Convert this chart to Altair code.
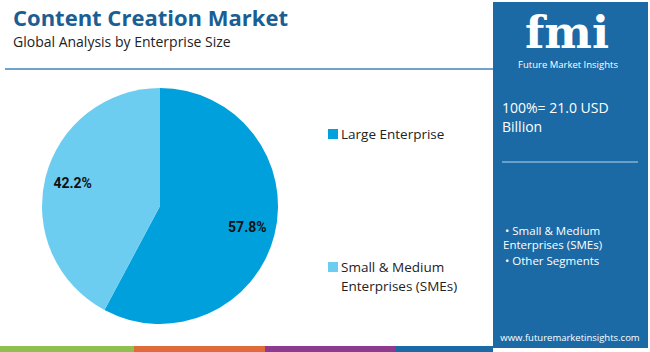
import altair as alt
import pandas as pd

segments = ["Large Enterprise", "Small & Medium Enterprises (SMEs)"]
shares = [57.8, 42.2]
labels = ["57.8%", "42.2%"]
colors = ["#00a0dc", "#6dcdf0"]

df = pd.DataFrame({"segment": segments, "share": shares, "label": labels, "order": [0, 1]})

W, H = 650, 352
CX, CY, R = 160, 206, 118

base = alt.Chart(df)

pie = base.mark_arc(radius=R, stroke=None).encode(
    theta=alt.Theta("share:Q", stack=True),
    color=alt.Color("segment:N", scale=alt.Scale(domain=segments, range=colors), legend=None),
    order=alt.Order("order:Q"),
    x=alt.value(CX), y=alt.value(CY),
)

pie_text = base.mark_text(radius=90, font="Roboto", fontWeight="bold", fontSize=14, color="#111").encode(
    theta=alt.Theta("share:Q", stack=True),
    order=alt.Order("order:Q"),
    text="label:N",
    x=alt.value(CX), y=alt.value(CY),
)

dummy = pd.DataFrame({"a": [0]})
d = alt.Chart(dummy)

def rect(x, x2, y, y2, color):
    return d.mark_rect(color=color).encode(x=alt.value(x), x2=alt.value(x2), y=alt.value(y), y2=alt.value(y2))

def txt(x, y, s, size, color="#222", weight="normal", font="Open Sans", align="left"):
    kw = dict(fontSize=size, color=color, fontWeight=weight, font=font, align=align, baseline="alphabetic")
    return d.mark_text(**kw).encode(x=alt.value(x), y=alt.value(y), text=alt.value(s))

layers = [
    # right panel
    rect(493, 648, 2, 348, "#1b6aa5"),
    # bottom stripes
    rect(0, 134, 346, 352, "#8fc04f"),
    rect(134, 265, 346, 352, "#df6a3a"),
    rect(265, 395, 346, 352, "#8c3b8f"),
    rect(395, 493, 346, 352, "#1b6aa5"),
    # header line
    d.mark_rule(color="#3f84b8", strokeWidth=1.5).encode(x=alt.value(5), x2=alt.value(493), y=alt.value(69)),
    txt(13, 26, "Content Creation Market", 22, color="#1a5e93", weight="bold", font="Open Sans"),
    txt(13, 47, "Global Analysis by Enterprise Size", 14, color="#222", font="Open Sans"),
    # logo
    txt(567, 48, "fmi", 45, color="white", weight="bold", font="DejaVu Serif", align="center"),
    txt(568, 68, "Future Market Insights", 9.5, color="white", font="Open Sans", align="center"),
    # panel text
    txt(502, 113, "100%= 21.0 USD", 14, color="white"),
    txt(502, 132, "Billion", 14, color="white"),
    d.mark_rule(color="#b9d3ea", strokeWidth=1.2).encode(x=alt.value(502), x2=alt.value(638), y=alt.value(162)),
    txt(505, 235, "• Small & Medium", 11.5, color="white"),
    txt(503, 249, "Enterprises (SMEs)", 11.5, color="white"),
    txt(505, 265, "• Other Segments", 11.5, color="white"),
    txt(570, 341, "www.futuremarketinsights.com", 9.5, color="white", align="center"),
    # legend
    rect(328, 338, 129, 139, colors[0]),
    txt(341, 139, "Large Enterprise", 13.5, color="#222"),
    rect(328, 338, 262, 272, colors[1]),
    txt(341, 272, "Small & Medium", 13.5, color="#222"),
    txt(341, 291, "Enterprises (SMEs)", 13.5, color="#222"),
]

chart = alt.layer(pie, pie_text, *layers).properties(
    width=W, height=H,
    autosize=alt.AutoSizeParams(type="none"),
    padding=0,
    background="white",
).configure_view(stroke=None)

chart.save("out.html", embed_options={"renderer": "svg", "actions": False})
